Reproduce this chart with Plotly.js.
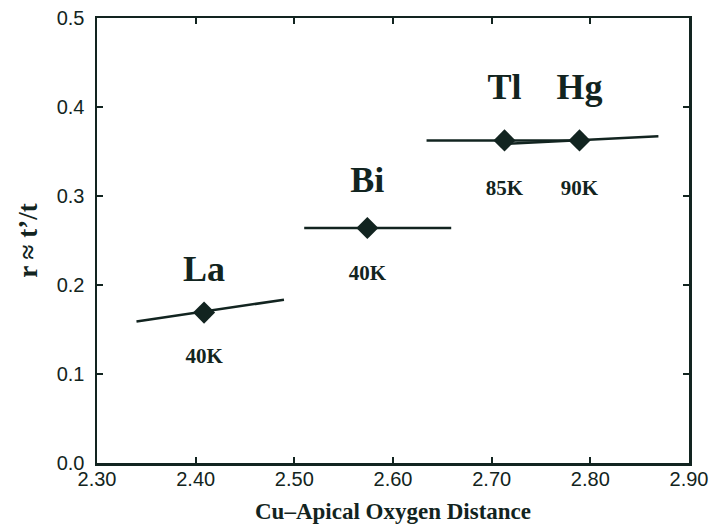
<!DOCTYPE html>
<html><head><meta charset="utf-8">
<script src="https://cdn.plot.ly/plotly-3.0.1.min.js"></script>
<style>html,body{margin:0;padding:0;background:#fff;}#chart{width:713px;height:528px;}</style>
</head><body><div id="chart"></div>
<script>
// Data
const names = ["La", "Bi", "Tl", "Hg"];
const tcLabels = ["40K", "40K", "85K", "90K"];
const apicalDist = [2.4085, 2.574, 2.713, 2.789];
const rValues = [0.169, 0.264, 0.3625, 0.3625];
// fitted segment end points for each compound
const segX0 = [2.340, 2.510, 2.634, 2.715];
const segX1 = [2.4895, 2.659, 2.790, 2.869];
const segY0 = [0.159, 0.264, 0.3625, 0.3585];
const segY1 = [0.1835, 0.264, 0.3625, 0.367];
const nameLabelY = [0.215, 0.315, 0.4195, 0.4195];
const tcLabelY = [0.118, 0.2116, 0.307, 0.307];
const xTicks = [2.30, 2.40, 2.50, 2.60, 2.70, 2.80, 2.90];
const yTicks = [0.0, 0.1, 0.2, 0.3, 0.4, 0.5];

const ink = '#122420';
const traces = [];
for (let i = 0; i < names.length; i++) {
  traces.push({
    x: [segX0[i], segX1[i]], y: [segY0[i], segY1[i]],
    mode: 'lines', line: {color: ink, width: 2.5}, showlegend: false, hoverinfo: 'skip'
  });
}
traces.push({
  x: apicalDist, y: rValues, mode: 'markers',
  marker: {symbol: 'diamond', size: 17, color: ink},
  showlegend: false
});
traces.push({
  x: apicalDist, y: nameLabelY, mode: 'text', text: names,
  textfont: {family: 'Liberation Serif', size: 36, color: ink, weight: 'bold'},
  showlegend: false, hoverinfo: 'skip'
});
traces.push({
  x: apicalDist, y: tcLabelY, mode: 'text', text: tcLabels,
  textfont: {family: 'Liberation Serif', size: 21, color: ink, weight: 'bold'},
  showlegend: false, hoverinfo: 'skip'
});

const layout = {
  width: 713, height: 528,
  margin: {l: 97, r: 24, t: 18, b: 65},
  paper_bgcolor: '#fff', plot_bgcolor: '#fff',
  font: {family: 'Liberation Sans', color: ink},
  xaxis: {
    range: [2.30, 2.90], tickvals: xTicks, ticktext: xTicks.map(v => v.toFixed(2)),
    ticks: 'inside', ticklen: 6, tickwidth: 2, tickcolor: ink,
    showline: true, linecolor: ink, linewidth: 2.5, mirror: 'ticks',
    showgrid: false, zeroline: false, ticklabelstandoff: -4,
    tickfont: {family: 'Liberation Sans', size: 20, color: ink},
    title: {text: 'Cu\u2013Apical Oxygen Distance', standoff: 15,
      font: {family: 'Liberation Serif', size: 23, color: ink, weight: 'bold'}}
  },
  yaxis: {
    range: [0, 0.5], tickvals: yTicks, ticktext: yTicks.map(v => v.toFixed(1)),
    ticks: 'inside', ticklen: 6, tickwidth: 2, tickcolor: ink,
    showline: true, linecolor: ink, linewidth: 2.5, mirror: 'ticks',
    showgrid: false, zeroline: false, ticklabelstandoff: 6,
    tickfont: {family: 'Liberation Sans', size: 20, color: ink},
    title: {text: 'r \u2248 t\u2019/t', standoff: 11,
      font: {family: 'Liberation Serif', size: 27, color: ink, weight: 'bold'}}
  }
};
Plotly.newPlot('chart', traces, layout, {displayModeBar: false, staticPlot: true});
</script></body></html>
